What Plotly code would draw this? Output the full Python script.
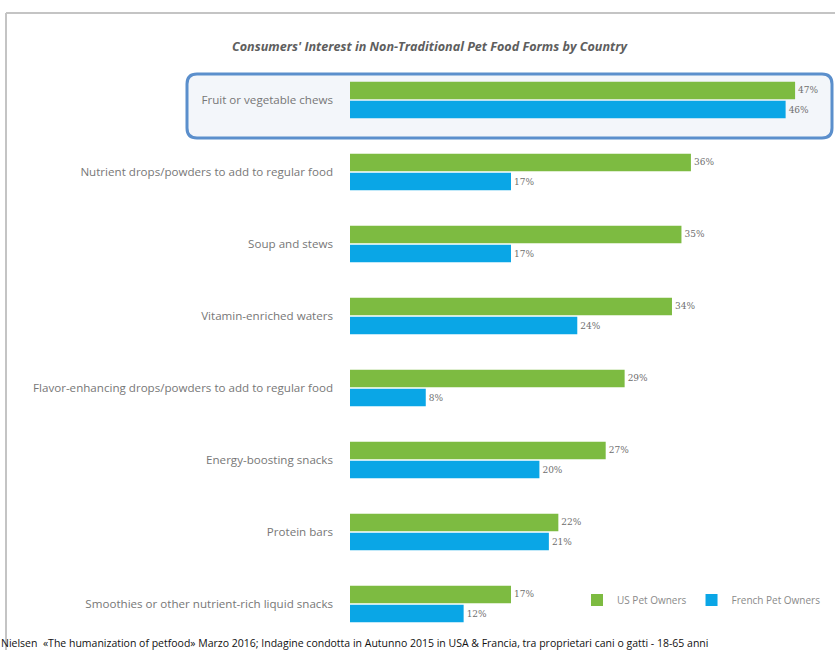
import plotly.graph_objects as go

categories = [
    "Fruit or vegetable chews",
    "Nutrient drops/powders to add to regular food",
    "Soup and stews",
    "Vitamin-enriched waters",
    "Flavor-enhancing drops/powders to add to regular food",
    "Energy-boosting snacks",
    "Protein bars",
    "Smoothies or other nutrient-rich liquid snacks",
]
us_values = [47, 36, 35, 34, 29, 27, 22, 17]
fr_values = [46, 17, 17, 24, 8, 20, 21, 12]
series_names = ["US Pet Owners", "French Pet Owners"]
title_text = "Consumers' Interest in Non-Traditional Pet Food Forms by Country"
footer_text = ("Nielsen  «The humanization of petfood» Marzo 2016; Indagine condotta in Autunno 2015 "
               "in USA & Francia, tra proprietari cani o gatti - 18-65 anni")

GREEN = "#7dbb41"
BLUE = "#0aa6e6"
GRAY_TXT = "#6f6f6f"

W, H = 835, 650
ML, MR, MT, MB = 350, 5, 64, 10
PW, PH = W - ML - MR, H - MT - MB


def px_x(p):
    return (p - ML) / PW


def px_y(p):
    return (H - MB - p) / PH


fig = go.Figure()
for name, vals, col in [(series_names[0], us_values, GREEN), (series_names[1], fr_values, BLUE)]:
    fig.add_trace(go.Bar(
        y=categories, x=vals, name=name, orientation="h",
        marker=dict(color=col, line=dict(width=0)),
        text=[f"{v}%" for v in vals], textposition="outside",
        textfont=dict(family="DejaVu Serif", size=9, color=GRAY_TXT),
        cliponaxis=False,
    ))

# rounded highlight box
x0, x1 = px_x(187), px_x(832)
y0, y1 = px_y(138), px_y(74)
rx, ry = 10 / PW, 10 / PH
path = (f"M {x0+rx},{y1} L {x1-rx},{y1} Q {x1},{y1} {x1},{y1-ry} "
        f"L {x1},{y0+ry} Q {x1},{y0} {x1-rx},{y0} L {x0+rx},{y0} "
        f"Q {x0},{y0} {x0},{y0+ry} L {x0},{y1-ry} Q {x0},{y1} {x0+rx},{y1} Z")
shapes = [
    dict(type="path", xref="paper", yref="paper", path=path,
         fillcolor="#f3f6fa", line=dict(color="#5b8fcc", width=3), layer="below"),
    dict(type="line", xref="paper", yref="paper", x0=px_x(6), x1=px_x(835), y0=px_y(13), y1=px_y(13),
         line=dict(color="#c4c4c4", width=2)),
    dict(type="line", xref="paper", yref="paper", x0=px_x(6), x1=px_x(6), y0=px_y(13), y1=px_y(652),
         line=dict(color="#c4c4c4", width=2)),
]

annotations = [
    dict(text=f"<b><i>{title_text}</i></b>", xref="paper", yref="paper",
         x=px_x(430), y=px_y(46), xanchor="center", yanchor="middle", showarrow=False,
         font=dict(family="Open Sans", size=12.6, color="#5e5e5e")),
    dict(text=footer_text, xref="paper", yref="paper", x=px_x(-1), y=px_y(643),
         xanchor="left", yanchor="middle", showarrow=False,
         font=dict(family="Open Sans", size=10.5, color="#111111")),
]

fig.update_layout(
    width=W, height=H,
    margin=dict(l=ML, r=MR, t=MT, b=MB),
    paper_bgcolor="white", plot_bgcolor="rgba(0,0,0,0)",
    barmode="group", bargap=0.47, bargroupgap=0.08,
    shapes=shapes, annotations=annotations,
    showlegend=True,
    legend=dict(orientation="h", x=px_x(577), y=px_y(600), xanchor="left", yanchor="middle",
                font=dict(family="Open Sans", size=10, color="#8a8a8a"), bgcolor="rgba(0,0,0,0)",
                itemwidth=30, traceorder="normal"),
    xaxis=dict(range=[0, PW / 9.47], visible=False, showgrid=False, zeroline=False),
    yaxis=dict(autorange="reversed", showgrid=False, zeroline=False, showline=False,
               ticks="", ticklabelstandoff=16,
               tickfont=dict(family="Open Sans", size=11.6, color="#777777")),
)

fig.write_html("out.html")
